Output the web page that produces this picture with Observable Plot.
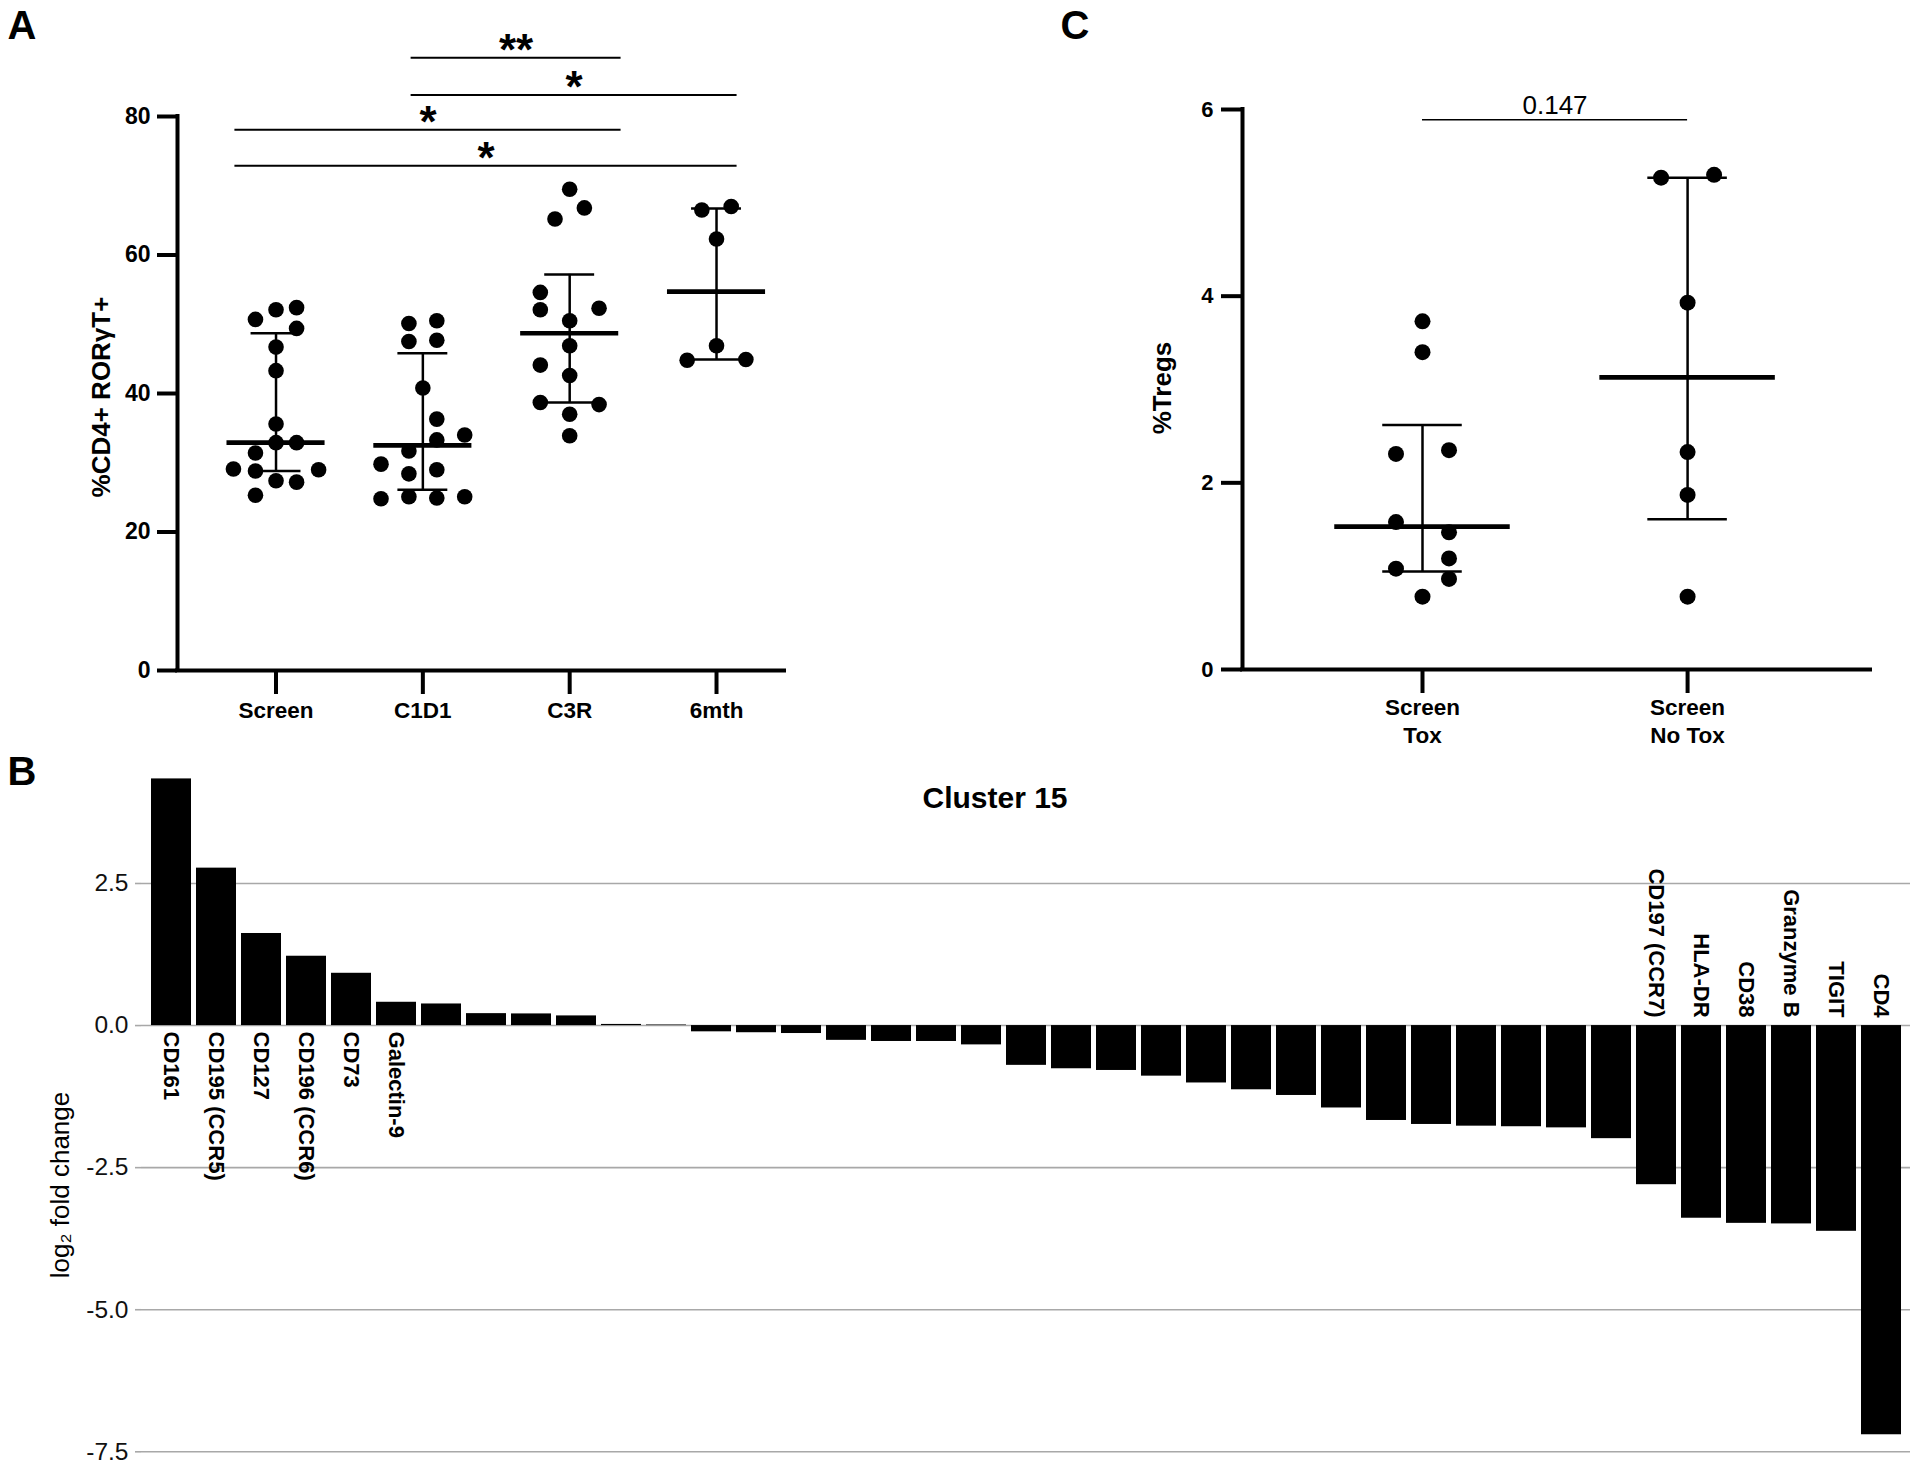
<!DOCTYPE html>
<html><head><meta charset="utf-8">
<script src="https://cdn.jsdelivr.net/npm/d3@7"></script>
<script src="https://cdn.jsdelivr.net/npm/@observablehq/plot@0.6"></script>
<style>
body{margin:0;background:#fff;}
#root{position:relative;width:1920px;height:1467px;overflow:hidden;background:#fff;font-family:"Liberation Sans",Arial,sans-serif;color:#000}
.abs{position:absolute;line-height:1;white-space:nowrap;transform:translate(-50%,-50%)}
.rot{transform:translate(-50%,-50%) rotate(-90deg)}
.panel{position:absolute}
</style></head><body><div id="root"></div>
<script>
// ---------- Panel A data ----------
const groupsA = ["Screen", "C1D1", "C3R", "6mth"];
const screenVals = [50.7, 52.1, 52.4, 49.4, 46.7, 43.3, 35.6, 32.9, 32.9, 31.4, 29.1, 28.8, 29.0, 27.4, 27.2, 25.3];
const screenJit  = [-0.14, 0, 0.14, 0.14, 0, 0, 0, 0, 0.14, -0.14, -0.29, -0.14, 0.29, 0, 0.14, -0.14];
const c1d1Vals = [50.1, 50.5, 47.5, 47.7, 40.8, 36.3, 34.0, 33.3, 31.7, 29.8, 28.4, 29.0, 24.8, 25.1, 24.9, 25.1];
const c1d1Jit  = [-0.095, 0.095, -0.095, 0.095, 0, 0.095, 0.285, 0.095, -0.095, -0.285, -0.095, 0.095, -0.285, -0.095, 0.095, 0.285];
const c3rVals = [69.5, 66.8, 65.2, 54.6, 52.1, 52.3, 50.5, 46.9, 44.1, 42.6, 38.7, 38.4, 37.0, 33.9];
const c3rJit  = [0, 0.1, -0.1, -0.2, -0.2, 0.2, 0, 0, -0.2, 0, -0.2, 0.2, 0, 0];
const m6Vals = [66.5, 67.0, 62.3, 46.9, 44.8, 44.9];
const m6Jit  = [-0.1, 0.1, 0, 0, -0.2, 0.2];
const medianA = [32.9, 32.5, 48.7, 54.7];
const upperA  = [48.7, 45.8, 57.2, 66.7];
const lowerA  = [28.8, 26.1, 38.7, 44.9];
const yTicksA = [0, 20, 40, 60, 80];
const sigLabelsA = ["**", "*", "*", "*"];
const sigYA    = [88.5, 83.1, 78.1, 72.9];
const sigFromA = [0.92, 0.92, -0.28, -0.28];
const sigToA   = [2.35, 3.14, 2.35, 3.14];

// ---------- Panel C data ----------
const groupsC = ["Screen\nTox", "Screen\nNo Tox"];
const toxVals = [3.73, 3.40, 2.31, 2.35, 1.58, 1.47, 1.19, 1.08, 0.97, 0.78];
const toxJit  = [0, 0, -0.1, 0.1, -0.1, 0.1, 0.1, -0.1, 0.1, 0];
const noToxVals = [5.27, 5.30, 3.93, 2.33, 1.87, 0.78];
const noToxJit  = [-0.1, 0.1, 0, 0, 0, 0];
const medianC = [1.53, 3.13];
const upperC  = [2.62, 5.27];
const lowerC  = [1.05, 1.61];
const yTicksC = [0, 2, 4, 6];
const sigLabelC = "0.147";
const sigYC = 5.89;

// ---------- Panel B data ----------
const markersB = ["CD161", "CD195 (CCR5)", "CD127", "CD196 (CCR6)", "CD73", "Galectin-9",
  "", "", "", "", "", "", "", "", "", "", "", "", "", "", "", "", "", "", "", "", "", "", "", "", "", "", "",
  "CD197 (CCR7)", "HLA-DR", "CD38", "Granzyme B", "TIGIT", "CD4"];
const log2fcB = [4.34, 2.77, 1.62, 1.22, 0.92, 0.41, 0.38, 0.21, 0.205, 0.17, 0.02, 0.01,
  -0.11, -0.126, -0.14, -0.26, -0.28, -0.28, -0.34, -0.70, -0.76, -0.79, -0.89, -1.01, -1.13, -1.23,
  -1.45, -1.67, -1.74, -1.77, -1.78, -1.80, -1.99, -2.80, -3.39, -3.48, -3.49, -3.62, -7.20];
const yTicksB = [2.5, 0, -2.5, -5, -7.5];
const titleB = "Cluster 15";

const FONT = "Liberation Sans, Arial, sans-serif";
const root = document.getElementById("root");
function addText(txt, x, y, css, rot) {
  const d = document.createElement("div");
  d.className = "abs" + (rot ? " rot" : "");
  d.textContent = txt;
  d.style.left = x + "px"; d.style.top = y + "px";
  Object.assign(d.style, css || {});
  root.appendChild(d);
}
function place(svg, left, top) {
  const w = document.createElement("div");
  w.className = "panel"; w.style.left = left + "px"; w.style.top = top + "px";
  w.appendChild(svg); root.appendChild(w);
}

// ---------- Panel A ----------
const valsA = [screenVals, c1d1Vals, c3rVals, m6Vals];
const jitA = [screenJit, c1d1Jit, c3rJit, m6Jit];
const pointsA = valsA.flatMap((vs, i) => vs.map((v, k) => ({i, v, x: i + jitA[i][k]})));
const sumA = groupsA.map((g, i) => ({i, median: medianA[i], upper: upperA[i], lower: lowerA[i]}));
const sigA = sigLabelsA.map((s, k) => ({label: s, y: sigYA[k], x1: sigFromA[k], x2: sigToA[k]}));
const xDomA = [-0.671, 3.463];
const plotA = Plot.plot({
  width: 800, height: 760,
  marginLeft: 177, marginRight: 16, marginTop: 116, marginBottom: 90,
  x: {type: "linear", domain: xDomA, axis: null},
  y: {domain: [0, 80], axis: null},
  style: {fontFamily: FONT, fontSize: "23px", fontWeight: "bold", color: "#000", background: "transparent", overflow: "visible"},
  marks: [
    Plot.axisY({ticks: yTicksA, tickSize: 20, tickPadding: 7, strokeWidth: 4, fontSize: 23, fontWeight: "bold", label: null, tickFormat: d => String(d)}),
    Plot.axisX({ticks: [0, 1, 2, 3], tickSize: 24, tickPadding: 8, strokeWidth: 4, fontSize: 22.5, fontWeight: "bold", label: null, tickFormat: i => groupsA[i]}),
    Plot.ruleX([xDomA[0]], {strokeWidth: 4, strokeLinecap: "square"}),
    Plot.ruleY([0], {strokeWidth: 4, strokeLinecap: "square"}),
    Plot.ruleX(sumA, {x: "i", y1: "lower", y2: "upper", strokeWidth: 2.5}),
    Plot.ruleY(sumA, {y: "upper", x1: d => d.i - 0.17, x2: d => d.i + 0.17, strokeWidth: 2.5}),
    Plot.ruleY(sumA, {y: "lower", x1: d => d.i - 0.17, x2: d => d.i + 0.17, strokeWidth: 2.5}),
    Plot.dot(pointsA, {x: "x", y: "v", r: 7.8, fill: "#000", stroke: null}),
    Plot.ruleY(sumA, {y: "median", x1: d => d.i - 0.334, x2: d => d.i + 0.334, strokeWidth: 4.7}),
    Plot.ruleY(sigA, {y: "y", x1: "x1", x2: "x2", strokeWidth: 2}),
    Plot.text(sigA, {x: d => (d.x1 + d.x2) / 2, y: "y", text: "label", fontSize: 44, fontWeight: "bold", lineAnchor: "bottom", dy: 7})
  ]
});
place(plotA, 0, 0);

// ---------- Panel C ----------
const valsC = [toxVals, noToxVals];
const jitC = [toxJit, noToxJit];
const pointsC = valsC.flatMap((vs, i) => vs.map((v, k) => ({i, v, x: i + jitC[i][k]})));
const sumC = groupsC.map((g, i) => ({i, median: medianC[i], upper: upperC[i], lower: lowerC[i]}));
const xDomC = [-0.679, 1.69];
const plotC = Plot.plot({
  width: 860, height: 760,
  marginLeft: 182, marginRight: 50, marginTop: 109, marginBottom: 91,
  x: {type: "linear", domain: xDomC, axis: null},
  y: {domain: [0, 6], axis: null},
  style: {fontFamily: FONT, fontSize: "22px", fontWeight: "bold", color: "#000", background: "transparent", overflow: "visible"},
  marks: [
    Plot.axisY({ticks: yTicksC, tickSize: 21, tickPadding: 8, strokeWidth: 4, fontSize: 22, fontWeight: "bold", label: null, tickFormat: d => String(d)}),
    Plot.axisX({ticks: [0, 1], tickSize: 24, tickPadding: 2, strokeWidth: 4, fontSize: 22.5, fontWeight: "bold", lineHeight: 1.24, label: null, tickFormat: i => groupsC[i]}),
    Plot.ruleX([xDomC[0]], {strokeWidth: 4, strokeLinecap: "square"}),
    Plot.ruleY([0], {strokeWidth: 4, strokeLinecap: "square"}),
    Plot.ruleX(sumC, {x: "i", y1: "lower", y2: "upper", strokeWidth: 2.5}),
    Plot.ruleY(sumC, {y: "upper", x1: d => d.i - 0.15, x2: d => d.i + 0.15, strokeWidth: 2.5}),
    Plot.ruleY(sumC, {y: "lower", x1: d => d.i - 0.15, x2: d => d.i + 0.15, strokeWidth: 2.5}),
    Plot.dot(pointsC, {x: "x", y: "v", r: 8, fill: "#000", stroke: null}),
    Plot.ruleY(sumC, {y: "median", x1: d => d.i - 0.331, x2: d => d.i + 0.331, strokeWidth: 4.7}),
    Plot.ruleY([sigYC], {x1: 0, x2: 1, strokeWidth: 1.5}),
    Plot.text([sigLabelC], {x: 0.5, y: sigYC, text: d => d, fontSize: 26, fontWeight: "normal", lineAnchor: "bottom", dy: -6})
  ]
});
place(plotC, 1060, 0);

// ---------- Panel B ----------
const barsB = log2fcB.map((v, i) => ({i, v, label: markersB[i]}));
const plotB = Plot.plot({
  width: 1920, height: 707,
  marginLeft: 141, marginRight: 10, marginTop: 15, marginBottom: 10,
  x: {type: "band", domain: d3.range(barsB.length), padding: 0.115, axis: null},
  y: {domain: [-7.6, 4.4], axis: null},
  style: {fontFamily: FONT, fontSize: "24px", color: "#000", background: "transparent", overflow: "visible"},
  marks: [
    Plot.gridY({ticks: yTicksB, stroke: "#a8a8a8", strokeOpacity: 1, strokeWidth: 1.6}),
    Plot.axisY({ticks: yTicksB, tickSize: 6, tickPadding: 7, stroke: "#a8a8a8", strokeWidth: 1.6, fontSize: 24.5, fill: "#111", label: null, tickFormat: v => v.toFixed(1)}),
    Plot.barY(barsB, {x: "i", y: "v", fill: "#000"}),
    Plot.text(barsB.filter(d => d.label && d.v > 0), {x: "i", y: 0, text: "label", rotate: 90, textAnchor: "start", dy: 6, fontSize: 22, fontWeight: "bold"}),
    Plot.text(barsB.filter(d => d.label && d.v < 0), {x: "i", y: 0, text: "label", rotate: 90, textAnchor: "end", dy: -8, fontSize: 22, fontWeight: "bold"})
  ]
});
place(plotB, 0, 760);

// ---------- Titles, panel letters, axis titles ----------
addText("A", 22, 25, {fontSize: "40px", fontWeight: "bold"});
addText("C", 1075, 25, {fontSize: "40px", fontWeight: "bold"});
addText("B", 22, 771, {fontSize: "40px", fontWeight: "bold"});
addText("%CD4+ RORγT+", 101, 397, {fontSize: "26px", fontWeight: "bold"}, true);
addText("%Tregs", 1162, 388, {fontSize: "26px", fontWeight: "bold"}, true);
addText("log₂ fold change", 60, 1185, {fontSize: "26px"}, true);
addText(titleB, 995, 798, {fontSize: "30px", fontWeight: "bold"});
</script></body></html>
